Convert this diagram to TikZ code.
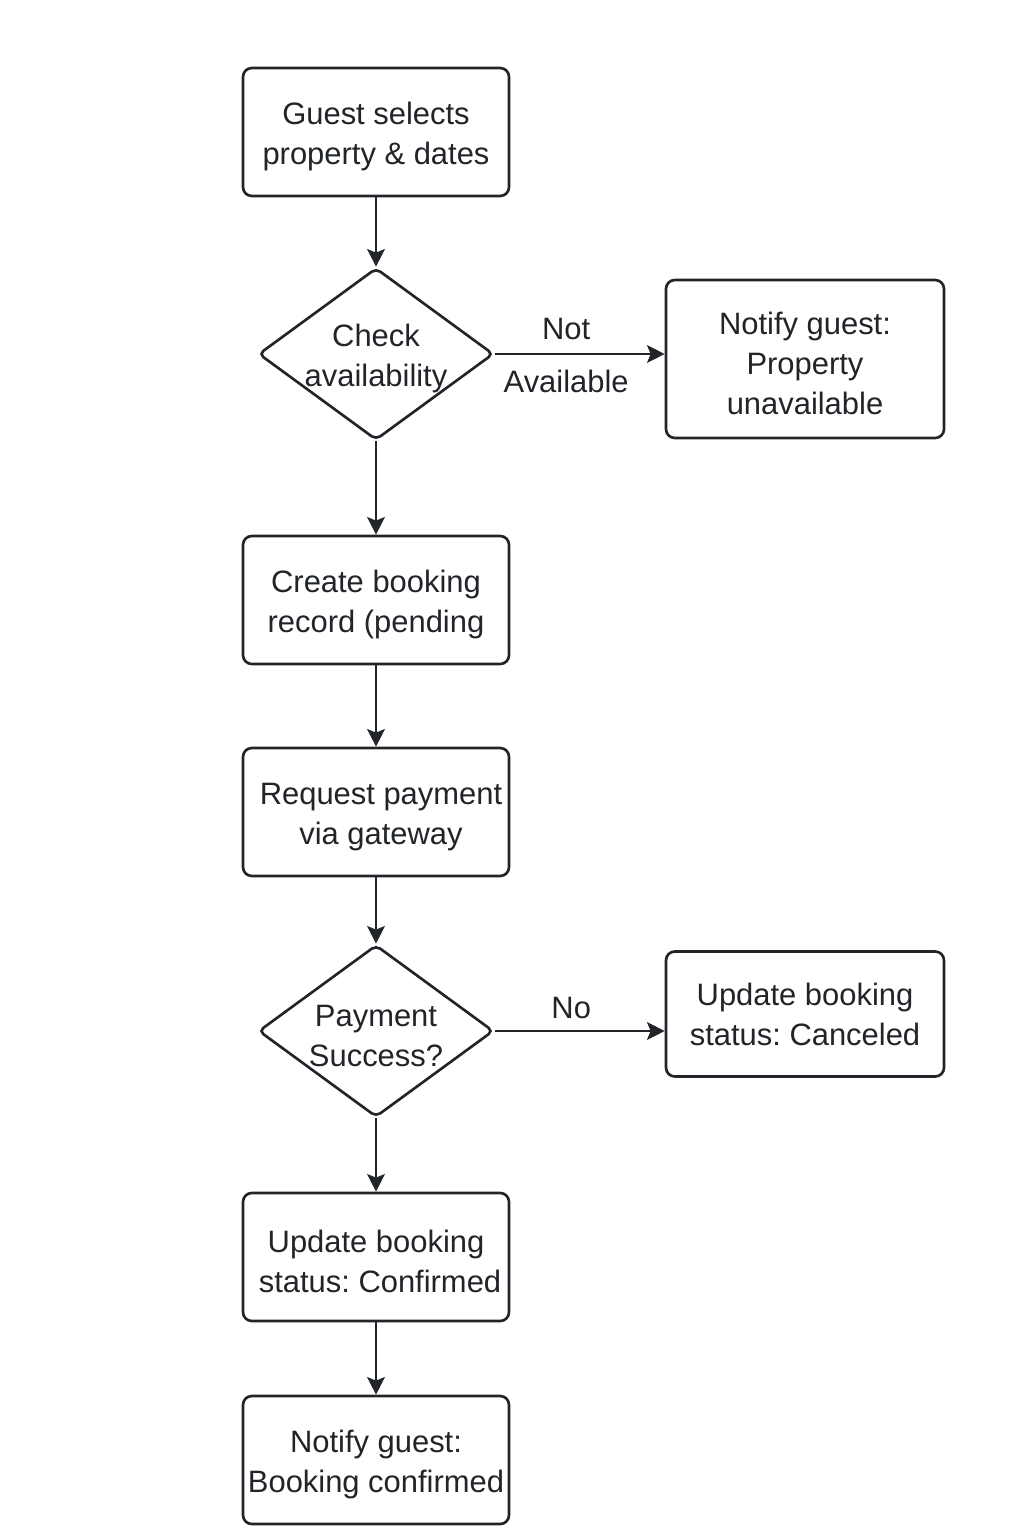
\documentclass[tikz,border=0pt]{standalone}
\usepackage{fontspec}
\setmainfont{Liberation Sans}
\usepackage{tikz}
\usetikzlibrary{shapes.geometric, arrows.meta}
\definecolor{inkgray}{RGB}{33,37,41}
\newcommand{\topgap}{\rule{0pt}{9pt}}

\begin{document}
\begin{tikzpicture}[
        node distance=2.2cm,
        font=\fontsize{8.8}{11.4}\selectfont\frenchspacing,
        box/.style={rectangle, draw=inkgray, line width=0.75pt, rounded corners=2.5pt, fill=white, text=inkgray, minimum width=2.66cm, minimum height=1.28cm, inner sep=0pt, align=center},
        sidebox/.style={box, minimum width=2.78cm},
        decision/.style={diamond, shape aspect=1.37, draw=inkgray, line width=0.75pt, rounded corners=1.5pt, fill=white, text=inkgray, minimum width=2.35cm, minimum height=1.72cm, inner sep=-2pt, align=center},
        arrow/.style={->, >={Stealth[length=5pt, width=5pt, inset=1pt]}, thick, draw=inkgray},
        lbl/.style={text=inkgray, inner sep=1pt}
    ]
        \useasboundingbox (0,0) rectangle (10.24,-15.36);
        \node[box] (guest) at (3.76,-1.32) {\topgap Guest selects\\property \& dates};
        \node[decision, below of=guest, yshift=-0.02cm] (check) {\topgap Check\\availability};
        \node[sidebox, minimum height=1.58cm, right of=check, xshift=2.09cm, yshift=-0.05cm] (unavail) {\topgap Notify guest:\\Property\\unavailable};
        \node[box, below of=check, yshift=-0.26cm] (create) {\topgap Create booking\\record (pending};
        \node[box, below of=create, yshift=0.08cm] (request) {\topgap\hspace*{0.1cm}Request payment\\\hspace*{0.1cm}via gateway};
        \node[decision, below of=request, yshift=0.01cm] (payok) {\topgap Payment\\Success?};
        \node[sidebox, minimum height=1.25cm, right of=payok, xshift=2.09cm, yshift=0.17cm] (cancel) {Update booking\\status: Canceled};
        \node[box, below of=payok, yshift=-0.06cm] (confirm) {\topgap Update booking\\\hspace*{0.08cm}status: Confirmed};
        \node[box, below of=confirm, yshift=0.17cm] (notifyok) {\topgap Notify guest:\\Booking confirmed};

        \draw[arrow] (guest) -- (check);
        \draw[arrow] (check) -- (create);
        \draw[arrow] (create) -- (request);
        \draw[arrow] (request) -- (payok);
        \draw[arrow] (payok) -- (confirm);
        \draw[arrow] (confirm) -- (notifyok);
        \draw[arrow] (check.east) -- node[lbl, above, pos=0.42, yshift=0.09cm] {Not} node[lbl, below, pos=0.42, yshift=-0.11cm] {Available} (check.east -| unavail.west);
        \draw[arrow] (payok.east) -- node[lbl, above, pos=0.45, yshift=0.07cm] {No} (payok.east -| cancel.west);
    \end{tikzpicture}
\end{document}
